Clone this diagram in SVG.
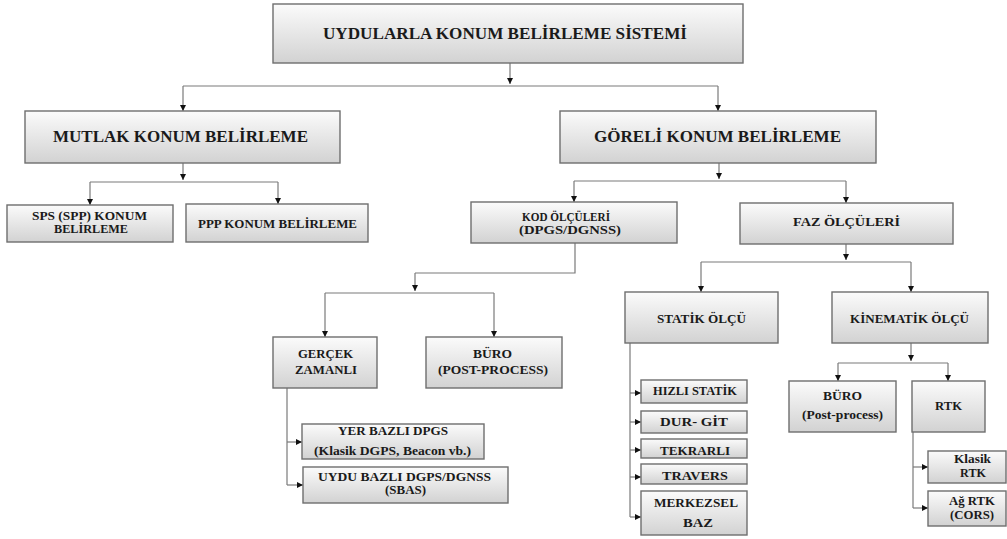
<svg xmlns="http://www.w3.org/2000/svg" width="1007" height="539" viewBox="0 0 1007 539">
<defs>
<linearGradient id="g" x1="0" y1="0" x2="0" y2="1">
<stop offset="0" stop-color="#fbfbfb"/>
<stop offset="1" stop-color="#d2d2d2"/>
</linearGradient>
<marker id="a" markerUnits="userSpaceOnUse" markerWidth="7" markerHeight="7" refX="6" refY="3" orient="auto">
<path d="M0,0 L6,3 L0,6 z" fill="#111"/>
</marker>
</defs>
<style>
.b{fill:url(#g);stroke:#6e6e6e;stroke-width:1.4}
text{font-family:"Liberation Serif","DejaVu Serif",serif;font-weight:bold;fill:#1a1a1a;text-anchor:middle}
.L{font-size:17px}
.M{font-size:13px}
.T{font-size:11.5px}
.S{font-size:12px}
.c path{fill:none;stroke:#7a7a7a;stroke-width:1.2}
.c .ar{marker-end:url(#a)}
</style>
<rect width="1007" height="539" fill="#fff"/>
<g class="c" id="connectors">
<path class="ar" d="M510,63 V84"/>
<path d="M183,86 H718"/>
<path class="ar" d="M183,86 V111"/>
<path class="ar" d="M718,86 V111"/>
<path class="ar" d="M183,163 V180"/>
<path d="M90,182 H278"/>
<path class="ar" d="M90,182 V205"/>
<path class="ar" d="M278,182 V204"/>
<path class="ar" d="M719,163 V179"/>
<path d="M574,181 H846"/>
<path class="ar" d="M574,181 V202"/>
<path class="ar" d="M846,181 V203"/>
<path class="ar" d="M846,244 V260"/>
<path d="M701,262 H911"/>
<path class="ar" d="M701,262 V292"/>
<path class="ar" d="M911,262 V292"/>
<path d="M575,243 V273 H415"/>
<path class="ar" d="M415,273 V291"/>
<path d="M325,293 H494"/>
<path class="ar" d="M325,293 V337"/>
<path class="ar" d="M494,293 V337"/>
<path d="M287,388 V485"/>
<path class="ar" d="M287,442 H302"/>
<path class="ar" d="M287,485 H303"/>
<path class="ar" d="M911,343 V361"/>
<path d="M838,363 H948"/>
<path class="ar" d="M838,363 V381"/>
<path class="ar" d="M948,363 V381"/>
<path d="M630,343 V517"/>
<path class="ar" d="M630,393 H641"/>
<path class="ar" d="M630,422 H641"/>
<path class="ar" d="M630,450 H641"/>
<path class="ar" d="M630,477 H641"/>
<path class="ar" d="M630,517 H641"/>
<path d="M913,432 V508"/>
<path class="ar" d="M913,467 H928"/>
<path class="ar" d="M913,508 H928"/>
</g>
<g id="n-root"><rect class="b" x="273" y="4" width="470" height="59"/><text class="L" x="505" y="39" textLength="364" lengthAdjust="spacingAndGlyphs">UYDULARLA KONUM BELİRLEME SİSTEMİ</text></g>
<g id="n-mutlak"><rect class="b" x="25" y="111" width="315" height="52"/><text class="L" x="180.5" y="142" textLength="255" lengthAdjust="spacingAndGlyphs">MUTLAK KONUM BELİRLEME</text></g>
<g id="n-goreli"><rect class="b" x="560" y="111" width="316" height="52"/><text class="L" x="717.5" y="142" textLength="247" lengthAdjust="spacingAndGlyphs">GÖRELİ KONUM BELİRLEME</text></g>
<g id="n-sps"><rect class="b" x="7" y="205" width="166" height="37"/><text class="T" x="89.5" y="220" textLength="115" lengthAdjust="spacingAndGlyphs">SPS (SPP) KONUM</text><text class="T" x="91" y="233" textLength="74" lengthAdjust="spacingAndGlyphs">BELİRLEME</text></g>
<g id="n-ppp"><rect class="b" x="186" y="204" width="182" height="38"/><text class="M" x="277.5" y="228" textLength="159" lengthAdjust="spacingAndGlyphs">PPP KONUM BELİRLEME</text></g>
<g id="n-kod"><rect class="b" x="471" y="202" width="206" height="41"/><text class="T" x="566" y="221" textLength="88" lengthAdjust="spacingAndGlyphs">KOD ÖLÇÜLERİ</text><text class="T" x="570" y="234" textLength="102" lengthAdjust="spacingAndGlyphs">(DPGS/DGNSS)</text></g>
<g id="n-faz"><rect class="b" x="740" y="203" width="213" height="41"/><text class="M" x="846.5" y="226" textLength="107" lengthAdjust="spacingAndGlyphs">FAZ ÖLÇÜLERİ</text></g>
<g id="n-gercek"><rect class="b" x="273" y="337" width="104" height="51"/><text class="M" x="325.5" y="358" textLength="55" lengthAdjust="spacingAndGlyphs">GERÇEK</text><text class="M" x="326" y="374" textLength="62" lengthAdjust="spacingAndGlyphs">ZAMANLI</text></g>
<g id="n-buro1"><rect class="b" x="426" y="337" width="136" height="51"/><text class="M" x="492.5" y="358" textLength="39" lengthAdjust="spacingAndGlyphs">BÜRO</text><text class="M" x="493" y="374" textLength="110" lengthAdjust="spacingAndGlyphs">(POST-PROCESS)</text></g>
<g id="n-yer"><rect class="b" x="302" y="424" width="182" height="35"/><text class="S" x="393" y="435" textLength="110" lengthAdjust="spacingAndGlyphs">YER BAZLI DPGS</text><text class="S" x="392.5" y="455" textLength="157" lengthAdjust="spacingAndGlyphs">(Klasik DGPS, Beacon vb.)</text></g>
<g id="n-uydu"><rect class="b" x="303" y="467" width="205" height="36"/><text class="T" x="404.5" y="481" textLength="173" lengthAdjust="spacingAndGlyphs">UYDU BAZLI DGPS/DGNSS</text><text class="T" x="405.5" y="494" textLength="41" lengthAdjust="spacingAndGlyphs">(SBAS)</text></g>
<g id="n-statik"><rect class="b" x="625" y="292" width="153" height="51"/><text class="M" x="701.5" y="323" textLength="89" lengthAdjust="spacingAndGlyphs">STATİK ÖLÇÜ</text></g>
<g id="n-kinematik"><rect class="b" x="832" y="292" width="156" height="51"/><text class="M" x="909.5" y="323" textLength="119" lengthAdjust="spacingAndGlyphs">KİNEMATİK ÖLÇÜ</text></g>
<g id="n-hizli"><rect class="b" x="641" y="380" width="106" height="23"/><text class="S" x="695" y="395" textLength="84" lengthAdjust="spacingAndGlyphs">HIZLI STATİK</text></g>
<g id="n-durgit"><rect class="b" x="641" y="411" width="106" height="22"/><text class="S" x="694" y="426" textLength="68" lengthAdjust="spacingAndGlyphs">DUR- GİT</text></g>
<g id="n-tekrarli"><rect class="b" x="641" y="439" width="106" height="19"/><text class="S" x="695" y="455" textLength="70" lengthAdjust="spacingAndGlyphs">TEKRARLI</text></g>
<g id="n-travers"><rect class="b" x="641" y="464" width="106" height="20"/><text class="S" x="695" y="480" textLength="66" lengthAdjust="spacingAndGlyphs">TRAVERS</text></g>
<g id="n-merkezsel"><rect class="b" x="641" y="491" width="106" height="44"/><text class="S" x="696" y="507" textLength="84" lengthAdjust="spacingAndGlyphs">MERKEZSEL</text><text class="S" x="698" y="527" textLength="30" lengthAdjust="spacingAndGlyphs">BAZ</text></g>
<g id="n-buro2"><rect class="b" x="789" y="381" width="107" height="51"/><text class="S" x="842.5" y="400" textLength="39" lengthAdjust="spacingAndGlyphs">BÜRO</text><text class="S" x="842.5" y="419" textLength="81" lengthAdjust="spacingAndGlyphs">(Post-process)</text></g>
<g id="n-rtk"><rect class="b" x="912" y="381" width="73" height="51"/><text class="S" x="948.5" y="410" textLength="27" lengthAdjust="spacingAndGlyphs">RTK</text></g>
<g id="n-klasik"><rect class="b" x="928" y="451" width="78" height="32"/><text class="S" x="972.5" y="463" textLength="37" lengthAdjust="spacingAndGlyphs">Klasik</text><text class="S" x="973" y="477" textLength="26" lengthAdjust="spacingAndGlyphs">RTK</text></g>
<g id="n-ag"><rect class="b" x="928" y="491" width="78" height="35"/><text class="S" x="972" y="505" textLength="46" lengthAdjust="spacingAndGlyphs">Ağ RTK</text><text class="S" x="972" y="519" textLength="44" lengthAdjust="spacingAndGlyphs">(CORS)</text></g>
</svg>
